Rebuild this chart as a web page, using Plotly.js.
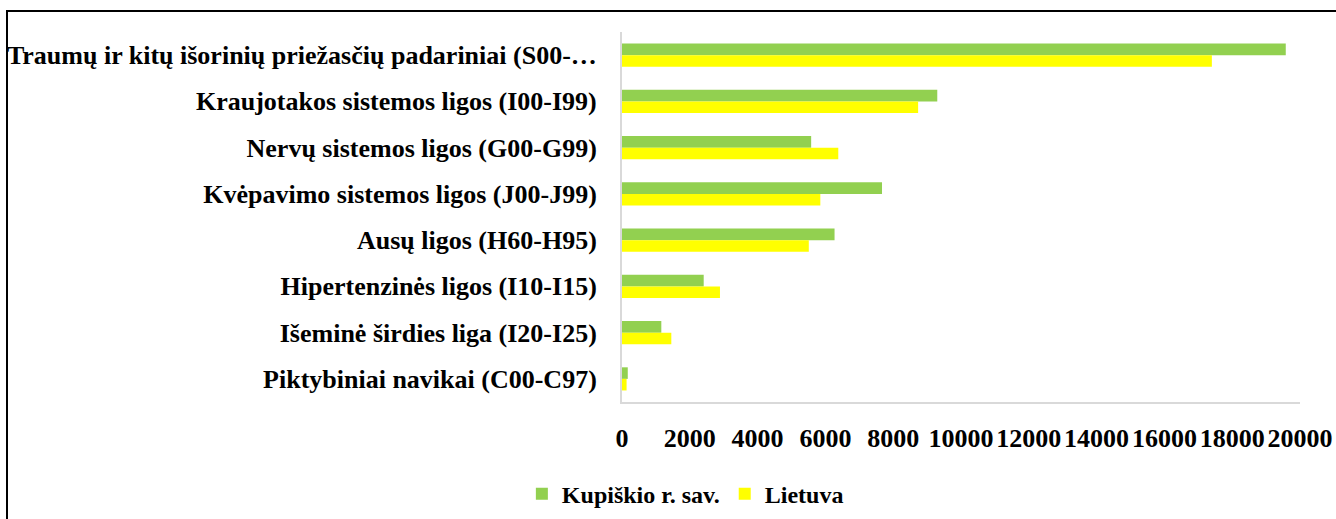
<!DOCTYPE html>
<html>
<head>
<meta charset="utf-8">
<script src="https://cdn.plot.ly/plotly-3.0.1.min.js"></script>
<style>
  html, body { margin: 0; padding: 0; background: #fff; }
  #wrap { position: relative; width: 1336px; height: 519px; overflow: hidden; }
  #chart { width: 1336px; height: 519px; }
  #frame { position: absolute; left: 6px; top: 10px; right: -10px; bottom: -10px;
           border-top: 2px solid #000; border-left: 2px solid #000; pointer-events: none; }
</style>
</head>
<body>
<div id="wrap">
  <div id="chart"></div>
  <div id="frame"></div>
</div>
<script>
const categories = [
  "Traumų ir kitų išorinių priežasčių padariniai (S00-…",
  "Kraujotakos sistemos ligos (I00-I99)",
  "Nervų sistemos ligos (G00-G99)",
  "Kvėpavimo sistemos ligos (J00-J99)",
  "Ausų ligos (H60-H95)",
  "Hipertenzinės ligos (I10-I15)",
  "Išeminė širdies liga (I20-I25)",
  "Piktybiniai navikai (C00-C97)"
];
const kupiskis = [19580, 9300, 5580, 7670, 6270, 2410, 1160, 170];
const lietuva  = [17400, 8735, 6380, 5850, 5510, 2890, 1455, 135];
const tickValues = [0, 2000, 4000, 6000, 8000, 10000, 12000, 14000, 16000, 18000, 20000];

const serif = "'Liberation Serif', 'Times New Roman', serif";

const traces = [
  { type: "bar", orientation: "h", name: "Kupiškio r. sav.", y: categories, x: kupiskis,
    marker: { color: "#92d050" }, hoverinfo: "x+name" },
  { type: "bar", orientation: "h", name: "Lietuva", y: categories, x: lietuva,
    marker: { color: "#ffff00" }, hoverinfo: "x+name" }
];

const layout = {
  width: 1336, height: 519,
  margin: { l: 622, r: 36, t: 32, b: 117, autoexpand: false },
  paper_bgcolor: "#ffffff", plot_bgcolor: "#ffffff",
  barmode: "group", bargap: 0.5, bargroupgap: 0,
  font: { family: serif, color: "#000", size: 24 },
  xaxis: {
    range: [0, 20000], tickvals: tickValues, ticktext: tickValues.map(String),
    showgrid: false, zeroline: false, showline: true, linecolor: "#d9d9d9", linewidth: 2,
    ticks: "", ticklabelstandoff: 12, automargin: false,
    tickfont: { family: serif, size: 26, color: "#000", weight: "bold" }
  },
  yaxis: {
    autorange: "reversed", type: "category", automargin: false,
    showgrid: false, zeroline: false, showline: true, linecolor: "#d9d9d9", linewidth: 2,
    ticks: "", ticklabelstandoff: 18,
    tickfont: { family: serif, size: 26, color: "#000", weight: "bold" }
  },
  showlegend: true,
  legend: {
    orientation: "h", xref: "container", yref: "container",
    x: 0.513, xanchor: "center", y: 0.048, yanchor: "middle",
    font: { family: serif, size: 24, color: "#000", weight: "bold" },
    itemwidth: 30, traceorder: "normal"
  }
};

Plotly.newPlot("chart", traces, layout, { displayModeBar: false, staticPlot: true });
</script>
</body>
</html>
